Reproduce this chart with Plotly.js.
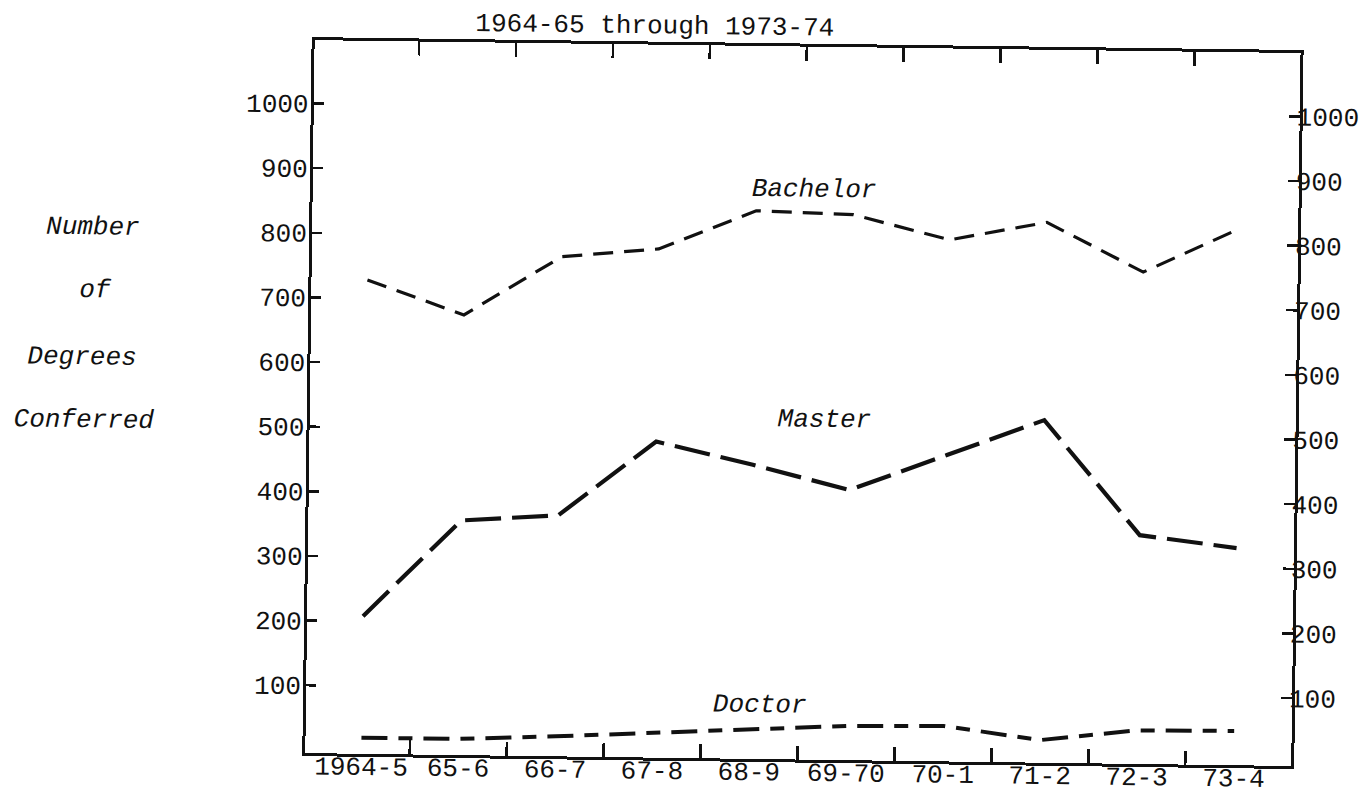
<!DOCTYPE html>
<html><head><meta charset="utf-8">
<script src="https://cdn.plot.ly/plotly-3.0.1.min.js"></script>
<style>
html,body{margin:0;padding:0;background:#fff;overflow:hidden;width:1367px;height:793px;}
#chart{width:1367px;height:793px;transform:rotate(0.75deg);transform-origin:683px 396px;}
</style></head><body><div id="chart"></div>
<script>
// ---- data ----
const categories = ['1964-5','65-6','66-7','67-8','68-9','69-70','70-1','71-2','72-3','73-4'];
const bachelor = [728, 676, 768, 782, 843, 839, 802, 831, 756, 826];
const master   = [208, 358, 368, 484, 450, 413, 469, 525, 349, 331];
const doctor   = [20, 20, 26, 33, 41, 48, 50, 30, 47, 48];
const yTicks   = [100, 200, 300, 400, 500, 600, 700, 800, 900, 1000];
const seriesNames = ['Bachelor', 'Master', 'Doctor'];
const yLabelLines = ['Number', 'of', 'Degrees', 'Conferred'];
const titleText = '1964-65 through 1973-74';

const xIdx = categories.map((c, i) => i);
const boundaries = categories.slice(1).map((c, i) => i + 0.5);

const MONO = '"Liberation Mono", "DejaVu Sans Mono", monospace';
const XR = [-0.577, 9.593];
const YR = [-5, 1098];

function line(y, name, width, dash) {
  return {x: xIdx, y: y, name: name, type: 'scatter', mode: 'lines',
          line: {color: '#111', width: width, dash: dash}, hoverinfo: 'skip', showlegend: false};
}
const traces = [
  line(bachelor, seriesNames[0], 3.2, '20px,11px'),
  line(master, seriesNames[1], 4.2, '36px,11px'),
  line(doctor, seriesNames[2], 4, '26px,11px,14px,11px'),
  // invisible helpers so the overlay axes are drawn
  {x: xIdx, y: doctor, xaxis: 'x2', yaxis: 'y', type: 'scatter', mode: 'lines', line: {width: 0, color: 'rgba(0,0,0,0)'}, hoverinfo: 'skip', showlegend: false},
  {x: xIdx, y: doctor, xaxis: 'x', yaxis: 'y2', type: 'scatter', mode: 'lines', line: {width: 0, color: 'rgba(0,0,0,0)'}, hoverinfo: 'skip', showlegend: false}
];

const labelY = [0.734, 0.6454, 0.5512, 0.4631];
const labelX = [-0.2218, -0.2185, -0.2317, -0.2289];
const annotations = yLabelLines.map((t, i) => ({
  text: t, xref: 'paper', yref: 'paper', x: labelX[i], y: labelY[i],
  xanchor: 'center', yanchor: 'middle', showarrow: false,
  font: {family: MONO, size: 26, color: '#111', style: 'italic'}
}));
const seriesLabelPos = [[4.60, 877], [4.74, 521], [4.11, 78]];
seriesNames.forEach((n, i) => annotations.push({
  text: n, xref: 'x', yref: 'y', x: seriesLabelPos[i][0], y: seriesLabelPos[i][1],
  xanchor: 'center', yanchor: 'middle', showarrow: false,
  font: {family: MONO, size: 26, color: '#111', style: 'italic'}
}));

const tickFont = {family: MONO, size: 26, color: '#111'};
const layout = {
  width: 1367, height: 793,
  margin: {l: 310, r: 71, t: 45, b: 35},
  paper_bgcolor: '#fff', plot_bgcolor: '#fff',
  showlegend: false,
  title: {text: titleText, font: {family: MONO, size: 26, color: '#111'},
          x: 0.4755, xanchor: 'center', xref: 'container', y: 0.969, yanchor: 'middle', yref: 'container'},
  xaxis: {range: XR, tickmode: 'array', tickvals: xIdx, ticktext: categories, ticks: '',
          showline: true, linewidth: 3, linecolor: '#111', mirror: true, ticklabelstandoff: -13,
          showgrid: false, zeroline: false, tickfont: tickFont, fixedrange: true},
  xaxis2: {range: XR, overlaying: 'x', anchor: 'y', side: 'bottom', tickmode: 'array', tickvals: boundaries,
           ticks: 'inside', ticklen: 14, tickwidth: 2.5, tickcolor: '#111', showticklabels: false,
           showline: true, linewidth: 3, linecolor: '#111', mirror: 'ticks',
           showgrid: false, zeroline: false, fixedrange: true},
  yaxis: {range: YR, tickmode: 'array', tickvals: yTicks, ticks: 'inside', ticklen: 10, tickwidth: 2.5,
          tickcolor: '#111', showline: true, linewidth: 3, linecolor: '#111', mirror: true,
          showgrid: false, zeroline: false, tickfont: tickFont, ticklabelstandoff: -3, fixedrange: true},
  yaxis2: {range: YR, overlaying: 'y', anchor: 'x', side: 'right', tickmode: 'array', tickvals: yTicks,
           ticks: 'inside', ticklen: 11, tickwidth: 2.5, tickcolor: '#111', showline: false,
           showgrid: false, zeroline: false, tickfont: tickFont, ticklabelstandoff: -4, fixedrange: true},
  annotations: annotations
};
Plotly.newPlot('chart', traces, layout, {displayModeBar: false, staticPlot: true});
</script></body></html>
